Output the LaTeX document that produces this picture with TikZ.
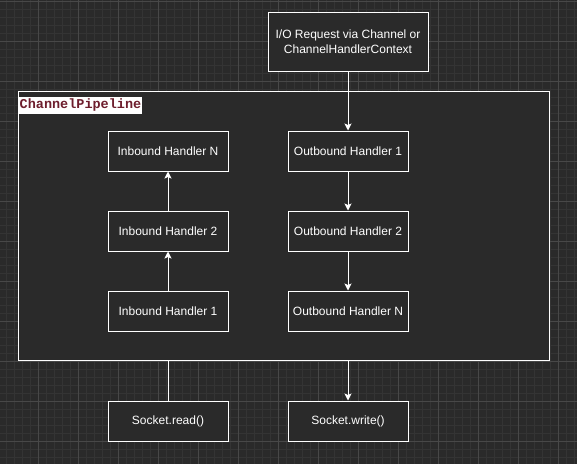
\documentclass[tikz,border=0pt]{standalone}
\usepackage{fontspec}
\setmainfont{Liberation Sans}
\newfontfamily\monofont{Liberation Mono}
\usetikzlibrary{arrows.meta}
\definecolor{bgdark}{RGB}{42,42,42}
\definecolor{gridminor}{RGB}{52,52,52}
\definecolor{gridmajor}{RGB}{72,72,72}
\definecolor{labelred}{RGB}{110,30,45}
\tikzset{
	box/.style={draw=white,line width=1pt,fill=bgdark,text=white,minimum width=120pt,minimum height=40pt,inner sep=0pt,font=\fontsize{12}{15}\selectfont,align=center},
	arr/.style={draw=white,line width=1pt,-{Stealth[length=7pt,width=7pt,inset=1.5pt]}},
	ln/.style={draw=white,line width=1pt}
}
\begin{document}
\begin{tikzpicture}[x=1pt,y=-1pt]
	\useasboundingbox (0,0) rectangle (577,464);
	\fill[bgdark](0,0)rectangle(577,464);
	\foreach \x in{6,14,...,574}
	\draw[gridminor,line width=1pt](\x,0)--(\x,464);
	\foreach \y in{1,9,...,464}
	\draw[gridminor,line width=1pt](0,\y)--(577,\y);
	\foreach \x in{38,78,...,574}
	\draw[gridmajor,line width=1pt](\x,0)--(\x,464);
	\foreach \y in{1,41,...,464}
	\draw[gridmajor,line width=1pt](0,\y)--(577,\y);
	
	\node[box,minimum width=531pt,minimum height=269pt](pipe)at(283.5,225.5){};
	\node[anchor=north west,fill=white,text=labelred,inner xsep=0.5pt,inner ysep=2pt,font=\monofont\bfseries\fontsize{13.5}{14}\selectfont](pipelabel)at(19,97){ChannelPipeline};
	
	\node[box,minimum width=160pt,minimum height=59pt](req)at(348,41.5){I/O Request via Channel or\\ChannelHandlerContext};
	\foreach \n/\y in{1/311,2/231,N/151}
	\node[box](in\n)at(168,\y){Inbound Handler \n};
	\foreach \n/\y in{1/151,2/231,N/311}
	\node[box](out\n)at(348,\y){Outbound Handler \n};
	\node[box](read)at(168,421){Socket.read()};
	\node[box](write)at(348,421){Socket.write()};
	
	\draw[arr](req)--(out1);
	\draw[arr](out1)--(out2);
	\draw[arr](out2)--(outN);
	\draw[arr](in1)--(in2);
	\draw[arr](in2)--(inN);
	\draw[ln](read)--(read|-pipe.south);
	\draw[arr](write|-pipe.south)--(write);
\end{tikzpicture}
\end{document}
